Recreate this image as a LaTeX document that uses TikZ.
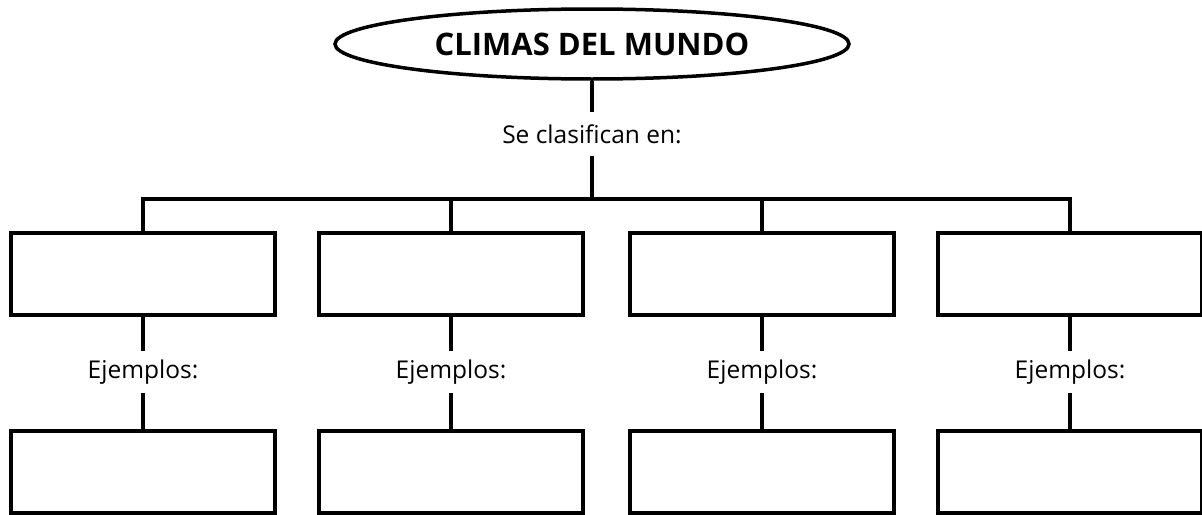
\documentclass[tikz,border=0pt]{standalone}
\usepackage{fontspec}
\setmainfont{Open Sans}
\usetikzlibrary{shapes.geometric}

\begin{document}
\begin{tikzpicture}[x=1pt, y=-1pt, line width=3.5pt,
    clima/.style={ellipse, draw, minimum width=514pt, minimum height=70pt, inner sep=0pt, font=\fontsize{31}{36}\selectfont\bfseries},
    box/.style={rectangle, draw, minimum width=264pt, minimum height=82pt, inner sep=0pt},
    lbl/.style={inner sep=0pt, minimum height=38pt, font=\fontsize{24.5}{29}\selectfont}]
    \useasboundingbox (0, 0) rectangle (1202, 514);

    \node at (592, 44) [clima] (clim) {CLIMAS DEL MUNDO};
    \node at (592, 134) [lbl, minimum height=40pt] (cls) {Se clasifican en:};
    \coordinate (hb) at (592, 199);

    \node at (143, 274) [box] (t1) {};
    \node at (451, 274) [box] (t2) {};
    \node at (762, 274) [box] (t3) {};
    \node at (1070, 274) [box] (t4) {};

    \node at (143, 372) [lbl] (ej1) {Ejemplos:};
    \node at (451, 372) [lbl] (ej2) {Ejemplos:};
    \node at (762, 372) [lbl] (ej3) {Ejemplos:};
    \node at (1070, 372) [lbl] (ej4) {Ejemplos:};

    \node at (143, 472) [box] (b1) {};
    \node at (451, 472) [box] (b2) {};
    \node at (762, 472) [box] (b3) {};
    \node at (1070, 472) [box] (b4) {};

    \draw (clim.south) -- (cls.north);
    \draw (cls.south) -- (hb);
    \draw (t1.north) |- (hb) -| (t4.north);
    \draw (t2.north) -- (t2.north |- hb);
    \draw (t3.north) -- (t3.north |- hb);

    \draw (t1.south) -- (ej1.north);
    \draw (ej1.south) -- (b1.north);
    \draw (t2.south) -- (ej2.north);
    \draw (ej2.south) -- (b2.north);
    \draw (t3.south) -- (ej3.north);
    \draw (ej3.south) -- (b3.north);
    \draw (t4.south) -- (ej4.north);
    \draw (ej4.south) -- (b4.north);
\end{tikzpicture}
\end{document}
